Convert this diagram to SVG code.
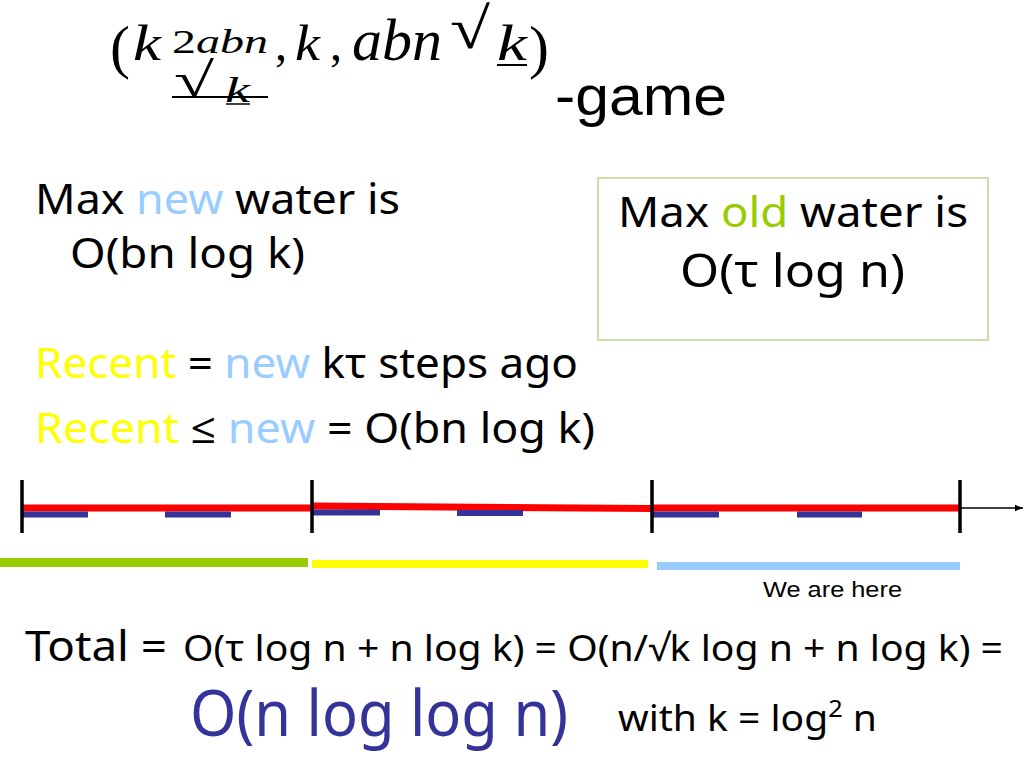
<svg xmlns="http://www.w3.org/2000/svg" width="1024" height="768" viewBox="0 0 1024 768">
<defs>
<style>
.m{font-family:"Liberation Serif","Times New Roman",serif;fill:#000}
.mi{font-family:"Liberation Serif","Times New Roman",serif;font-style:italic;fill:#000}
.t{font-family:"Noto Sans","Open Sans","DejaVu Sans",sans-serif;fill:#000}
.a{font-family:"Liberation Sans",Arial,sans-serif;fill:#000}
.new{fill:#99ccff}
.rec{fill:#ffff00}
.old{fill:#99cc00}
.vl{stroke:#000;stroke-width:3.5}
.bl{stroke:#333399;stroke-width:6}
</style>
<marker id="ah" viewBox="0 0 10 10" refX="10" refY="5" markerWidth="8" markerHeight="8" orient="auto" markerUnits="userSpaceOnUse">
<path d="M0,1 L10,5 L0,9 z" fill="#000"/>
</marker>
</defs>
<rect width="1024" height="768" fill="#fff"/>

<g id="title">
<text class="m" x="110" y="67" font-size="60">(</text>
<text class="mi" x="133" y="60" font-size="50" textLength="28" lengthAdjust="spacingAndGlyphs">k</text>
<text class="m" x="172" y="53" font-size="34" textLength="96" lengthAdjust="spacingAndGlyphs">2<tspan class="mi">abn</tspan></text>
<text class="m" x="275" y="60" font-size="48">,</text>
<text class="mi" x="295" y="60" font-size="50" textLength="25" lengthAdjust="spacingAndGlyphs">k</text>
<text class="m" x="330" y="60" font-size="48">,</text>
<text class="mi" x="352" y="60" font-size="60" textLength="90" lengthAdjust="spacingAndGlyphs">abn</text>
<text class="m" x="450" y="48" font-size="58" textLength="40" lengthAdjust="spacingAndGlyphs">√</text>
<text class="mi" x="497" y="60" font-size="50" textLength="30" lengthAdjust="spacingAndGlyphs">k</text>
<line x1="497" y1="65" x2="527" y2="65" stroke="#000" stroke-width="2"/>
<text class="m" x="529" y="67" font-size="60">)</text>
<text class="m" x="174" y="96" font-size="48" textLength="40" lengthAdjust="spacingAndGlyphs">√</text>
<text class="mi" x="225" y="102" font-size="36" textLength="25" lengthAdjust="spacingAndGlyphs">k</text>
<line x1="172" y1="97" x2="268" y2="97" stroke="#000" stroke-width="2"/>
<line x1="226" y1="104" x2="250" y2="104" stroke="#000" stroke-width="1.5"/>
<text class="a" x="555" y="115" font-size="56" textLength="172" lengthAdjust="spacingAndGlyphs">-game</text>
</g>

<g id="new-water">
<text class="t" x="35" y="214" font-size="42" textLength="365" lengthAdjust="spacingAndGlyphs">Max <tspan class="new">new</tspan> water is</text>
<text class="t" x="70" y="268" font-size="42" textLength="235" lengthAdjust="spacingAndGlyphs">O(bn log k)</text>
</g>

<g id="old-water">
<rect x="598" y="178" width="390" height="162" fill="none" stroke="#b8d78a" stroke-width="1.5"/>
<text class="t" x="618" y="227" font-size="42" textLength="350" lengthAdjust="spacingAndGlyphs">Max <tspan class="old">old</tspan> water is</text>
<text class="t" x="680" y="287" font-size="46" textLength="225" lengthAdjust="spacingAndGlyphs">O(τ log n)</text>
</g>

<g id="recent">
<text class="t" x="35" y="378" font-size="42" textLength="543" lengthAdjust="spacingAndGlyphs"><tspan class="rec">Recent</tspan> = <tspan class="new">new</tspan> kτ steps ago</text>
<text class="t" x="35" y="443" font-size="42" textLength="560" lengthAdjust="spacingAndGlyphs"><tspan class="rec">Recent</tspan> ≤ <tspan class="new">new</tspan> = O(bn log k)</text>
</g>

<g id="timeline">
<line x1="22" y1="508" x2="312" y2="508" stroke="#ff0000" stroke-width="7"/>
<line x1="312" y1="506" x2="652" y2="508.5" stroke="#ff0000" stroke-width="7"/>
<line x1="652" y1="508" x2="960" y2="508" stroke="#ff0000" stroke-width="7"/>
<line class="bl" x1="22" y1="514.5" x2="88" y2="514.5"/>
<line class="bl" x1="165" y1="514.5" x2="231" y2="514.5"/>
<line class="bl" x1="312" y1="512.5" x2="380" y2="512.5"/>
<line class="bl" x1="457" y1="513" x2="523" y2="513"/>
<line class="bl" x1="652" y1="514.5" x2="719" y2="514.5"/>
<line class="bl" x1="797" y1="514.5" x2="862" y2="514.5"/>
<line class="vl" x1="22" y1="480" x2="22" y2="533"/>
<line class="vl" x1="312" y1="480" x2="312" y2="533"/>
<line class="vl" x1="652" y1="480" x2="652" y2="533"/>
<line class="vl" x1="960" y1="480" x2="960" y2="533"/>
</g>

<g id="connectors">
<line x1="960" y1="508" x2="1023" y2="508" stroke="#000" stroke-width="1.5" marker-end="url(#ah)"/>
</g>

<g id="bars">
<rect x="0" y="558" width="308" height="9" fill="#99cc00"/>
<rect x="312" y="560" width="336" height="8" fill="#ffff00"/>
<rect x="657" y="562" width="303" height="8" fill="#99ccff"/>
<text class="a" x="763" y="597" font-size="22" textLength="139" lengthAdjust="spacingAndGlyphs">We are here</text>
</g>

<g id="total">
<text class="t" x="25" y="661" font-size="42" textLength="142" lengthAdjust="spacingAndGlyphs">Total =</text>
<text class="t" x="183" y="661" font-size="37" textLength="820" lengthAdjust="spacingAndGlyphs">O(τ log n + n log k) = O(n/√k log n + n log k) =</text>
<text class="t" x="190" y="736" font-size="64" textLength="378" lengthAdjust="spacingAndGlyphs" style="fill:#333399">O(n log log n)</text>
<text class="t" x="618" y="731" font-size="37" textLength="259" lengthAdjust="spacingAndGlyphs">with k = log<tspan font-size="24" dy="-14">2</tspan><tspan dy="14"> n</tspan></text>
</g>
</svg>
